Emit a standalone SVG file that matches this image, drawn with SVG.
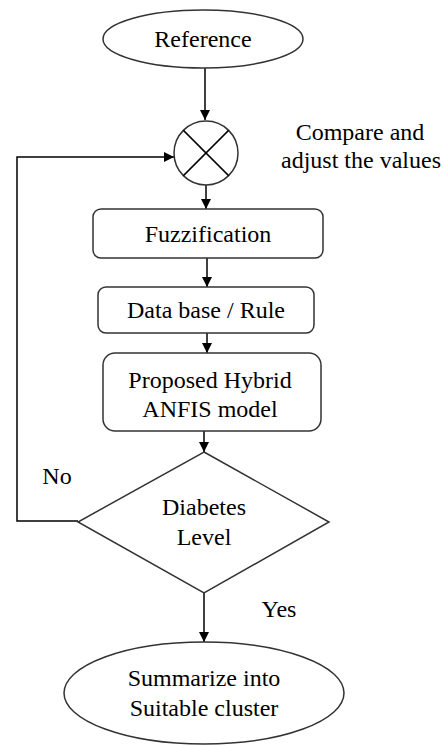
<svg xmlns="http://www.w3.org/2000/svg" width="443" height="745" viewBox="0 0 443 745">
<defs>
<marker id="arr" markerWidth="10" markerHeight="10" refX="10" refY="5" orient="auto" markerUnits="userSpaceOnUse">
<path d="M0,0 L10,5 L0,10 Z" fill="#000"/>
</marker>
<style>
.s{fill:#fff;stroke:#333;stroke-width:1.5}
.t{font-family:"Liberation Serif","Times New Roman",serif;font-size:24px;fill:#000;text-anchor:middle}
.c{fill:none;stroke:#000;stroke-width:1.5}
</style>
</defs>
<rect width="443" height="745" fill="#fff"/>
<g id="connectors">
<line class="c" x1="205" y1="68" x2="205" y2="120" marker-end="url(#arr)"/>
<polyline class="c" points="78,521 17,521 17,157 174,157" marker-end="url(#arr)"/>
<line class="c" x1="206" y1="185" x2="206" y2="209" marker-end="url(#arr)"/>
<line class="c" x1="207" y1="258" x2="207" y2="287" marker-end="url(#arr)"/>
<line class="c" x1="207" y1="333" x2="207" y2="353" marker-end="url(#arr)"/>
<line class="c" x1="204" y1="431" x2="204" y2="452" marker-end="url(#arr)"/>
<line class="c" x1="204" y1="593" x2="204" y2="642" marker-end="url(#arr)"/>
</g>
<g id="reference">
<ellipse class="s" cx="203" cy="39" rx="100" ry="29"/>
<text class="t" x="203" y="47">Reference</text>
</g>
<g id="compare">
<circle class="s" cx="206" cy="153" r="32"/>
<line class="c" x1="183.4" y1="130.4" x2="228.6" y2="175.6" stroke-width="1"/>
<line class="c" x1="228.6" y1="130.4" x2="183.4" y2="175.6" stroke-width="1"/>
<text class="t" x="360" y="140">Compare and</text>
<text class="t" x="361" y="168">adjust the values</text>
</g>
<g id="fuzzification">
<rect class="s" x="93" y="209" width="230" height="49" rx="8"/>
<text class="t" x="208" y="242">Fuzzification</text>
</g>
<g id="database">
<rect class="s" x="98" y="287" width="216" height="46" rx="8"/>
<text class="t" x="206" y="318">Data base / Rule</text>
</g>
<g id="anfis">
<rect class="s" x="103" y="353" width="218" height="78" rx="12"/>
<text class="t" x="210" y="388">Proposed Hybrid</text>
<text class="t" x="210" y="417">ANFIS model</text>
</g>
<g id="decision">
<polygon class="s" points="204,452 329,522 204,593 78,522"/>
<text class="t" x="204" y="515">Diabetes</text>
<text class="t" x="204" y="545">Level</text>
<text class="t" x="57" y="484">No</text>
<text class="t" x="279" y="617">Yes</text>
</g>
<g id="summarize">
<ellipse class="s" cx="204" cy="693" rx="140" ry="51"/>
<text class="t" x="204" y="686">Summarize into</text>
<text class="t" x="204" y="716">Suitable cluster</text>
</g>
</svg>
